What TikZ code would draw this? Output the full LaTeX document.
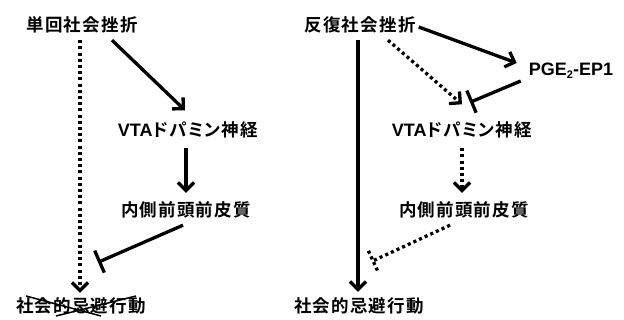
\documentclass[tikz,border=0pt]{standalone}
\usepackage{fontspec}
\usetikzlibrary{arrows.meta,calc}
\newfontfamily\jpfont{Noto Sans CJK JP Bold}[RawFeature=+palt, LetterSpace=7]
\newfontfamily\latfont{Liberation Sans Bold}
\newcommand\latx[1]{{\latfont\fontsize{18}{19}\selectfont #1}}
\begin{document}
\begin{tikzpicture}[x=1pt,y=-1pt,
  lab/.style={inner sep=0pt, text height=13pt, text depth=2pt, font=\jpfont\fontsize{17.5}{19}\selectfont},
  solidarr/.style={line width=3.3pt, -{Straight Barb[length=8pt,width=16pt]}},
  dotarr/.style={line width=3.3pt, dash pattern=on 3.1pt off 3.1pt, -{Straight Barb[length=8pt,width=16pt]}},
  inh/.style={line width=3.3pt, -{Bar[width=24pt]}},
  dotline/.style={line width=3.3pt, dash pattern=on 3.1pt off 3.1pt},
  crossline/.style={line width=1.5pt}]
\useasboundingbox (0,0) rectangle (624,320);
% left
\node[lab] (L1) at (82,26) {単回社会挫折};
\node[lab] (L2) at (188,131) {\latx{VTA}ドパミン神経};
\node[lab] (L3) at (186,211) {内側前頭前皮質};
\node[lab] (L4) at (81,307) {社会的忌避行動};
% right
\node[lab] (R1) at (360,26) {反復社会挫折};
\node[lab] (R2) at (571,70) {\latx{PGE\raisebox{-3pt}{\fontsize{11}{11}\selectfont 2}-EP1}};
\node[lab] (R3) at (462,131) {\latx{VTA}ドパミン神経};
\node[lab] (R4) at (464,211) {内側前頭前皮質};
\node[lab] (R5) at (359,307) {社会的忌避行動};
% left connectors
\draw[dotarr, shorten <=6.5pt, shorten >=6.5pt] ([xshift=-2pt]L1.south) -- ([xshift=-2pt]L1.south |- L4.north);
\draw[solidarr] ([xshift=30pt,yshift=-6.5pt]L1.south) -- ([xshift=-3pt,yshift=13pt]L2.north);
\draw[solidarr, shorten <=9.5pt, shorten >=10.5pt] ([xshift=-2pt]L2.south) -- ([xshift=-2pt]L2.south |- L3.north);
\coordinate (li) at ([xshift=17pt,yshift=37pt]L4.north);
\draw[inh] ([xshift=-3pt,yshift=-6.5pt]L3.south) -- (li);
\draw[crossline] ([shift={(-55pt,11pt)}]L4.center) -- ([shift={(20pt,-9pt)}]L4.center);
\draw[crossline] ([shift={(55pt,11pt)}]L4.center) -- ([shift={(-25pt,-9pt)}]L4.center);
% right connectors
\draw[solidarr, shorten <=6.5pt, shorten >=7.5pt] ([xshift=-2pt]R1.south) -- ([xshift=-2pt]R1.south |- R5.north);
\draw[solidarr] ([xshift=3pt,yshift=-1pt]R1.east) -- ([xshift=-12pt,yshift=7pt]R2.west);
\draw[dotarr] ([xshift=28pt,yshift=-6.5pt]R1.south) -- ([xshift=0pt,yshift=19pt]R3.north);
\coordinate (ri1) at ([xshift=8pt,yshift=21pt]R3.north);
\draw[inh] ([xshift=-8pt,yshift=-11pt]R2.west) -- (ri1);
\draw[dotarr, shorten <=9.5pt, shorten >=10.5pt] ([xshift=-2pt]R4.north |- R3.south) -- ([xshift=-2pt]R4.north);
\coordinate (rs) at ([xshift=-14pt,yshift=-6.5pt]R4.south);
\coordinate (ri) at ([xshift=14pt,yshift=38.5pt]R5.north);
\draw[dotline] (rs) -- (ri);
\draw[dotline] ($(ri)!11pt!90:(rs)$) -- ($(ri)!11pt!-90:(rs)$);
\end{tikzpicture}
\end{document}
